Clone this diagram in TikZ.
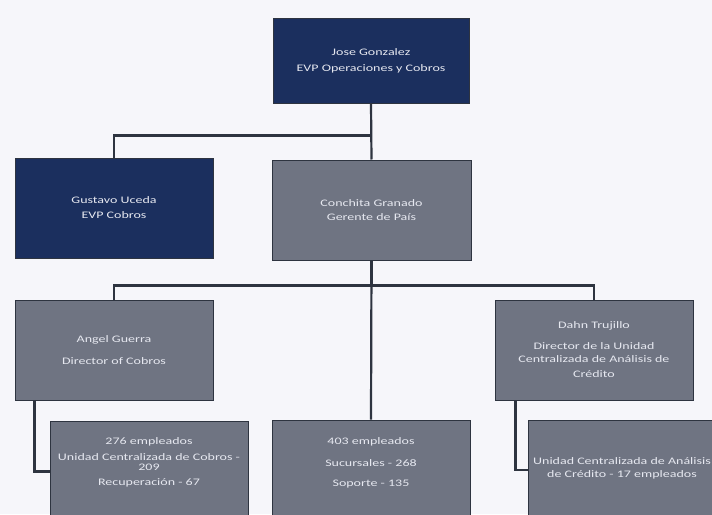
\documentclass[tikz,border=0pt]{standalone}
\usepackage{fontspec}
\setmainfont{Carlito}[FakeStretch=1.4]
\definecolor{navy}{HTML}{1B2F5E}
\definecolor{slate}{HTML}{6F7482}
\definecolor{edge}{HTML}{2E3440}
\definecolor{txt}{HTML}{E6E8F0}
\definecolor{bg}{HTML}{F6F6FA}
\tikzset{
  box/.style={draw=edge, line width=1pt, text=txt, align=center,
    font=\fontsize{10}{13}\selectfont, inner sep=1pt},
  dark/.style={box, fill=navy},
  grey/.style={box, fill=slate},
  conn/.style={draw=edge, line width=2.2pt}
}
\begin{document}
\begin{tikzpicture}[x=1pt,y=-1pt]
\fill[bg] (0,0) rectangle (712,514);
\useasboundingbox (0,0) rectangle (712,514);
\clip (0,0) rectangle (712,514);
\node[dark, minimum width=196pt, minimum height=85pt] (top) at (371,60.5) {Jose Gonzalez\\[3pt]EVP Operaciones y Cobros};
\node[dark, minimum width=198pt, minimum height=100pt] (gus) at (114,208) {Gustavo Uceda\\[2pt]EVP Cobros};
\node[grey, minimum width=199pt, minimum height=100pt] (con) at (371.5,210) {Conchita Granado\\[1pt]Gerente de País};
\node[grey, minimum width=198pt, minimum height=100pt] (ang) at (114,350) {Angel Guerra\\[9pt]Director of Cobros};
\node[grey, minimum width=198pt, minimum height=100pt] (dahn) at (594,350) {Dahn Trujillo\\[8pt]Director de la Unidad\\Centralizada de Análisis de\\[2pt]Crédito};
\node[grey, minimum width=198pt, minimum height=95pt, text depth=14pt] (bl) at (149,468.5) {276 empleados\\[3pt]Unidad Centralizada de Cobros -\\[-3pt]209\\[2pt]Recuperación - 67};
\node[grey, minimum width=198pt, minimum height=96pt, text depth=12pt] (bm) at (371,468) {403 empleados\\[9pt]Sucursales - 268\\[7pt]Soporte - 135};
\node[grey, minimum width=188pt, minimum height=96pt] (br) at (622,468) {Unidad Centralizada de Análisis\\de Crédito - 17 empleados};
% connectors
\draw[conn] (top.south) -- (con.north);
\draw[conn] (top.south) -- ++(0,32) -| (gus.north);
\draw[conn] (con.south) -- (bm.north);
\draw[conn] (con.south) -- ++(0,25) -| (ang.north);
\draw[conn] (con.south) -- ++(0,25) -| (dahn.north);
\draw[conn] ([xshift=20pt]ang.south west) |- ([yshift=-3pt]bl.west);
\draw[conn] ([xshift=21pt]dahn.south west) |- ([yshift=-2pt]br.west);
\end{tikzpicture}
\end{document}
